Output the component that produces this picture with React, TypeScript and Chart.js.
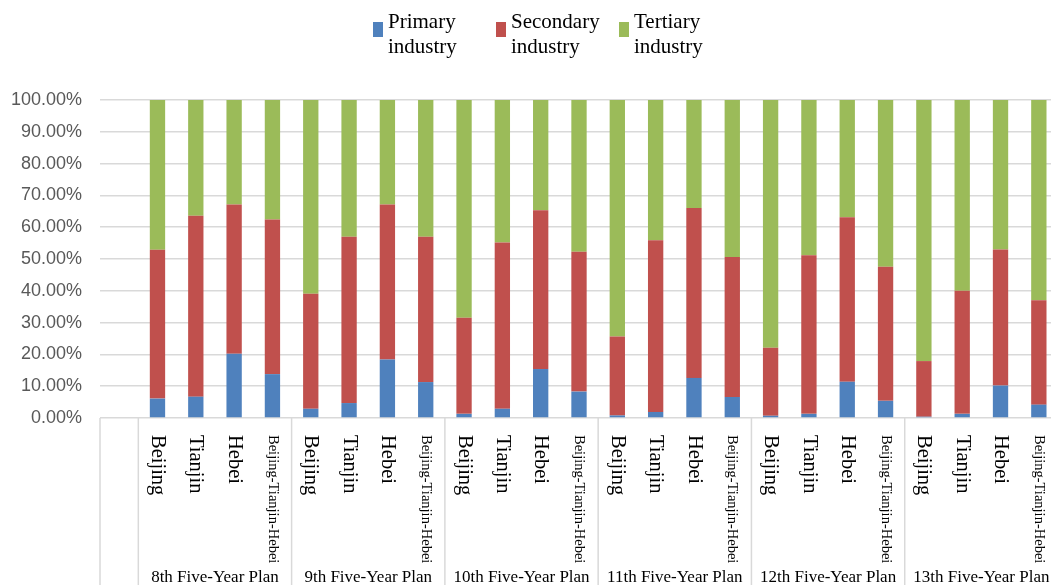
import { useEffect, useRef } from 'react';
import { Chart, registerables } from 'chart.js';

Chart.register(...registerables);

// Regions shown inside every plan period
const regions = ['Beijing', 'Tianjin', 'Hebei', 'Beijing-Tianjin-Hebei'];

// Plan periods (group labels under the city names)
const plans = [
  '8th Five-Year Plan',
  '9th Five-Year Plan',
  '10th Five-Year Plan',
  '11th Five-Year Plan',
  '12th Five-Year Plan',
  '13th Five-Year Plan',
];

// Industry shares (%), ordered plan by plan, Beijing / Tianjin / Hebei / Beijing-Tianjin-Hebei
const primary = [
  6.1, 6.7, 20.2, 13.8,
  2.9, 4.7, 18.4, 11.3,
  1.3, 2.9, 15.4, 8.3,
  0.8, 1.9, 12.6, 6.6,
  0.7, 1.3, 11.4, 5.4,
  0.4, 1.3, 10.2, 4.2,
];
const secondary = [
  46.8, 56.9, 46.9, 48.6,
  36.2, 52.3, 48.7, 45.7,
  30.2, 52.3, 49.9, 44.0,
  24.8, 54.0, 53.4, 44.0,
  21.4, 49.9, 51.7, 42.2,
  17.5, 38.7, 42.8, 32.8,
];
const tertiary = [
  47.1, 36.4, 32.9, 37.6,
  60.9, 43.0, 32.9, 43.0,
  68.5, 44.8, 34.7, 47.7,
  74.4, 44.1, 34.0, 49.4,
  77.9, 48.8, 36.9, 52.4,
  82.1, 60.0, 47.0, 63.0,
];

const seriesNames = [
  ['Primary', 'industry'],
  ['Secondary', 'industry'],
  ['Tertiary', 'industry'],
];
const seriesColors = ['#4F81BD', '#C0504D', '#9BBB59'];

// The axis starts with one empty category slot before the first plan
const labels = ['', ...plans.flatMap(() => regions)];

const serif = '"Liberation Serif", "Times New Roman", serif';

const categoryAxisLabels = {
  id: 'categoryAxisLabels',
  afterDraw(chart: any) {
    const { ctx, chartArea } = chart;
    const x = chart.scales.x;
    const step = x.getPixelForValue(1) - x.getPixelForValue(0);
    const top = chartArea.bottom;
    const bottom = chart.height;

    ctx.save();
    // separators between the blank slot and each plan group
    ctx.strokeStyle = '#d9d9d9';
    ctx.lineWidth = 1.5;
    const seps = [chartArea.left];
    for (let g = 0; g <= plans.length; g++) {
      seps.push(x.getPixelForValue(1 + g * regions.length) - step / 2);
    }
    seps.forEach((sx) => {
      ctx.beginPath();
      ctx.moveTo(sx, top);
      ctx.lineTo(sx, bottom);
      ctx.stroke();
    });

    // region names, rotated to read top-down
    ctx.fillStyle = '#000';
    for (let i = 1; i < labels.length; i++) {
      const text = labels[i];
      const cx = x.getPixelForValue(i);
      ctx.save();
      ctx.translate(cx, top + 17);
      ctx.rotate(Math.PI / 2);
      ctx.font = (text.length > 10 ? '14.5px ' : '20.5px ') + serif;
      ctx.textAlign = 'left';
      ctx.textBaseline = 'middle';
      ctx.fillText(text, 0, 0);
      ctx.restore();
    }

    // plan names, centred under each group
    ctx.font = '17px ' + serif;
    ctx.textAlign = 'center';
    ctx.textBaseline = 'alphabetic';
    plans.forEach((p, g) => {
      const first = x.getPixelForValue(1 + g * regions.length) - step / 2;
      const last = first + step * regions.length;
      ctx.fillText(p, (first + last) / 2, 582);
    });
    ctx.restore();
  },
};

const topLegend = {
  id: 'topLegend',
  afterDraw(chart: any) {
    const { ctx } = chart;
    const startX = 373;
    const gap = 123;
    ctx.save();
    ctx.font = '21px ' + serif;
    ctx.textAlign = 'left';
    ctx.textBaseline = 'alphabetic';
    seriesNames.forEach((lines, i) => {
      const mx = startX + i * gap;
      ctx.fillStyle = seriesColors[i];
      ctx.fillRect(mx, 22, 10, 15);
      ctx.fillStyle = '#000';
      lines.forEach((line, j) => ctx.fillText(line, mx + 15, 28 + j * 25));
    });
    ctx.restore();
  },
};

export default function App() {
  const canvasRef = useRef<HTMLCanvasElement | null>(null);

  useEffect(() => {
    if (!canvasRef.current) return;
    const values = [primary, secondary, tertiary];
    const chart = new Chart(canvasRef.current, {
      type: 'bar',
      data: {
        labels,
        datasets: values.map((v, i) => ({
          label: seriesNames[i].join(' '),
          data: [null, ...v],
          backgroundColor: seriesColors[i],
          borderWidth: 0,
          categoryPercentage: 1,
          barPercentage: 0.4,
        })),
      },
      options: {
        responsive: false,
        animation: false,
        layout: { padding: { top: 100, right: 4, left: 0, bottom: 0 } },
        plugins: {
          legend: { display: false },
          tooltip: { enabled: false },
          title: { display: false },
        },
        scales: {
          x: {
            stacked: true,
            grid: { display: false },
            border: { display: false },
            ticks: { display: false },
            afterFit: (scale: any) => {
              scale.height = 167;
            },
          },
          y: {
            stacked: true,
            min: 0,
            max: 100,
            grid: { color: '#d9d9d9', lineWidth: 1.5, drawTicks: false },
            border: { display: false },
            ticks: {
              stepSize: 10,
              padding: 18,
              color: '#595959',
              font: { family: '"Liberation Sans", Arial, sans-serif', size: 18 },
              callback: (v: any) => Number(v).toFixed(2) + '%',
            },
            afterFit: (scale: any) => {
              scale.width = 100;
            },
          },
        },
      },
      plugins: [categoryAxisLabels, topLegend],
    });
    return () => chart.destroy();
  }, []);

  return (
    <div
      style={{
        position: 'fixed',
        left: 0,
        top: 0,
        width: 1051,
        height: 585,
        overflow: 'hidden',
        background: '#fff',
      }}
    >
      <canvas ref={canvasRef} width={1062} height={585} style={{ display: 'block' }} />
    </div>
  );
}
